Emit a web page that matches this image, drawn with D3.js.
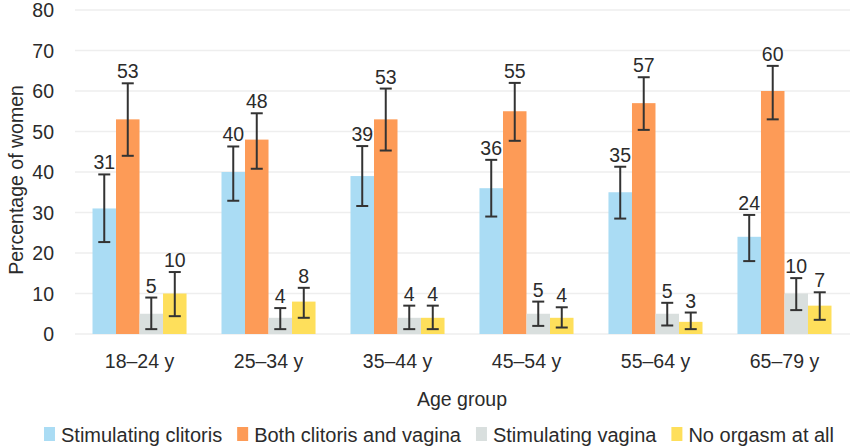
<!DOCTYPE html>
<html lang="en">
<head>
    <meta charset="UTF-8">
    <title>Orgasm by age group</title>
    <style>
        body { margin: 0; background: #fff; }
        text { font-family: "Liberation Sans", Arial, sans-serif; fill: #2b2b2b; font-size: 19.5px; }
        .legend text { font-size: 20px; }
    </style>
</head>
<body>
    <div id="chart"></div>
    <script src="https://d3js.org/d3.v7.min.js"></script>
    <script>
        // data
        var ageGroups = ["18–24 y", "25–34 y", "35–44 y", "45–54 y", "55–64 y", "65–79 y"];
        var seriesNames = ["Stimulating clitoris", "Both clitoris and vagina", "Stimulating vagina", "No orgasm at all"];
        var seriesColors = ["#aadcf4", "#fd9b57", "#d9dfde", "#fedf5b"];

        var clitoris = [31, 40, 39, 36, 35, 24];
        var both = [53, 48, 53, 55, 57, 60];
        var vagina = [5, 4, 4, 5, 5, 10];
        var noOrgasm = [10, 8, 4, 4, 3, 7];

        // confidence intervals [low, high]
        var clitorisCI = [[22.7, 39.4], [32.9, 46.3], [31.6, 46.4], [29, 43], [28.5, 41.3], [18, 29.4]];
        var bothCI = [[44, 61.9], [40.8, 54.5], [45.3, 60.6], [47.7, 62], [50.4, 63.4], [53, 66.2]];
        var vaginaCI = [[1.2, 9], [1.2, 6.4], [1.2, 7], [2, 8], [2.1, 7.7], [5.9, 13.8]];
        var noOrgasmCI = [[4.4, 15.3], [4, 11.4], [1.2, 7], [1.6, 6.6], [1.2, 5.3], [3.5, 10.3]];

        var yTicks = [0, 10, 20, 30, 40, 50, 60, 70, 80];

        var values = [clitoris, both, vagina, noOrgasm];
        var cis = [clitorisCI, bothCI, vaginaCI, noOrgasmCI];

        var width = 850, height = 447;
        var plotLeft = 75, plotRight = 849, plotTop = 10, plotBottom = 334;

        var svg = d3.select("#chart").append("svg")
            .attr("width", width)
            .attr("height", height);

        var x0 = d3.scaleBand()
            .domain(ageGroups)
            .range([plotLeft, plotRight])
            .paddingInner(0.271)
            .paddingOuter(0.1357);

        var x1 = d3.scaleBand()
            .domain(d3.range(seriesNames.length))
            .range([0, x0.bandwidth()]);

        var y = d3.scaleLinear()
            .domain([0, 80])
            .range([plotBottom, plotTop]);

        // gridlines
        svg.append("g").selectAll("line")
            .data(yTicks)
            .enter().append("line")
            .attr("x1", plotLeft).attr("x2", width)
            .attr("y1", function(d) { return y(d); })
            .attr("y2", function(d) { return y(d); })
            .attr("stroke", "#eeeeee")
            .attr("stroke-width", 1.5);

        // y tick labels
        svg.append("g").selectAll("text")
            .data(yTicks)
            .enter().append("text")
            .attr("x", 54)
            .attr("y", function(d) { return y(d); })
            .attr("dy", "0.36em")
            .attr("text-anchor", "end")
            .text(function(d) { return d; });

        // y axis title
        svg.append("text")
            .attr("transform", "translate(16,180) rotate(-90)")
            .attr("dy", "0.36em")
            .attr("text-anchor", "middle")
            .text("Percentage of women");

        // bars
        var groups = svg.append("g").selectAll("g")
            .data(ageGroups)
            .enter().append("g")
            .attr("transform", function(d) { return "translate(" + x0(d) + ",0)"; });

        groups.each(function(g, gi) {
            var grp = d3.select(this);
            var rows = seriesNames.map(function(name, si) {
                return { si: si, value: values[si][gi], lo: cis[si][gi][0], hi: cis[si][gi][1] };
            });

            grp.selectAll("rect")
                .data(rows)
                .enter().append("rect")
                .attr("x", function(d) { return x1(d.si); })
                .attr("width", x1.bandwidth())
                .attr("y", function(d) { return y(d.value); })
                .attr("height", function(d) { return y(0) - y(d.value); })
                .attr("fill", function(d) { return seriesColors[d.si]; });

            var cap = 6;
            var cx = function(d) { return x1(d.si) + x1.bandwidth() / 2; };
            var err = grp.selectAll("g.err")
                .data(rows)
                .enter().append("g")
                .attr("class", "err")
                .attr("stroke", "#333")
                .attr("stroke-width", 2);

            err.append("line")
                .attr("x1", cx).attr("x2", cx)
                .attr("y1", function(d) { return y(d.lo); })
                .attr("y2", function(d) { return y(d.hi); });
            err.append("line")
                .attr("x1", function(d) { return cx(d) - cap; })
                .attr("x2", function(d) { return cx(d) + cap; })
                .attr("y1", function(d) { return y(d.hi); })
                .attr("y2", function(d) { return y(d.hi); });
            err.append("line")
                .attr("x1", function(d) { return cx(d) - cap; })
                .attr("x2", function(d) { return cx(d) + cap; })
                .attr("y1", function(d) { return y(d.lo); })
                .attr("y2", function(d) { return y(d.lo); });

            grp.selectAll("text.val")
                .data(rows)
                .enter().append("text")
                .attr("class", "val")
                .attr("x", cx)
                .attr("y", function(d) { return y(d.hi) - 5; })
                .attr("text-anchor", "middle")
                .text(function(d) { return d.value; });
        });

        // x labels
        svg.append("g").selectAll("text")
            .data(ageGroups)
            .enter().append("text")
            .attr("x", function(d) { return x0(d) + x0.bandwidth() / 2; })
            .attr("y", 368)
            .attr("text-anchor", "middle")
            .text(function(d) { return d; });

        svg.append("text")
            .attr("x", 462)
            .attr("y", 406)
            .attr("text-anchor", "middle")
            .text("Age group");

        // legend, laid out left to right and centred
        var legend = svg.append("g").attr("class", "legend");
        var lx = 0;
        seriesNames.forEach(function(name, i) {
            var item = legend.append("g").attr("transform", "translate(" + lx + ",0)");
            item.append("rect")
                .attr("x", 0).attr("y", -15)
                .attr("width", 11).attr("height", 14)
                .attr("fill", seriesColors[i]);
            var t = item.append("text")
                .attr("x", 17).attr("y", 0)
                .text(name);
            lx += 17 + t.node().getComputedTextLength() + 15;
        });
        var legendWidth = lx - 15;
        legend.attr("transform", "translate(" + ((43 + 835) / 2 - legendWidth / 2) + ",442)");
    </script>
</body>
</html>
